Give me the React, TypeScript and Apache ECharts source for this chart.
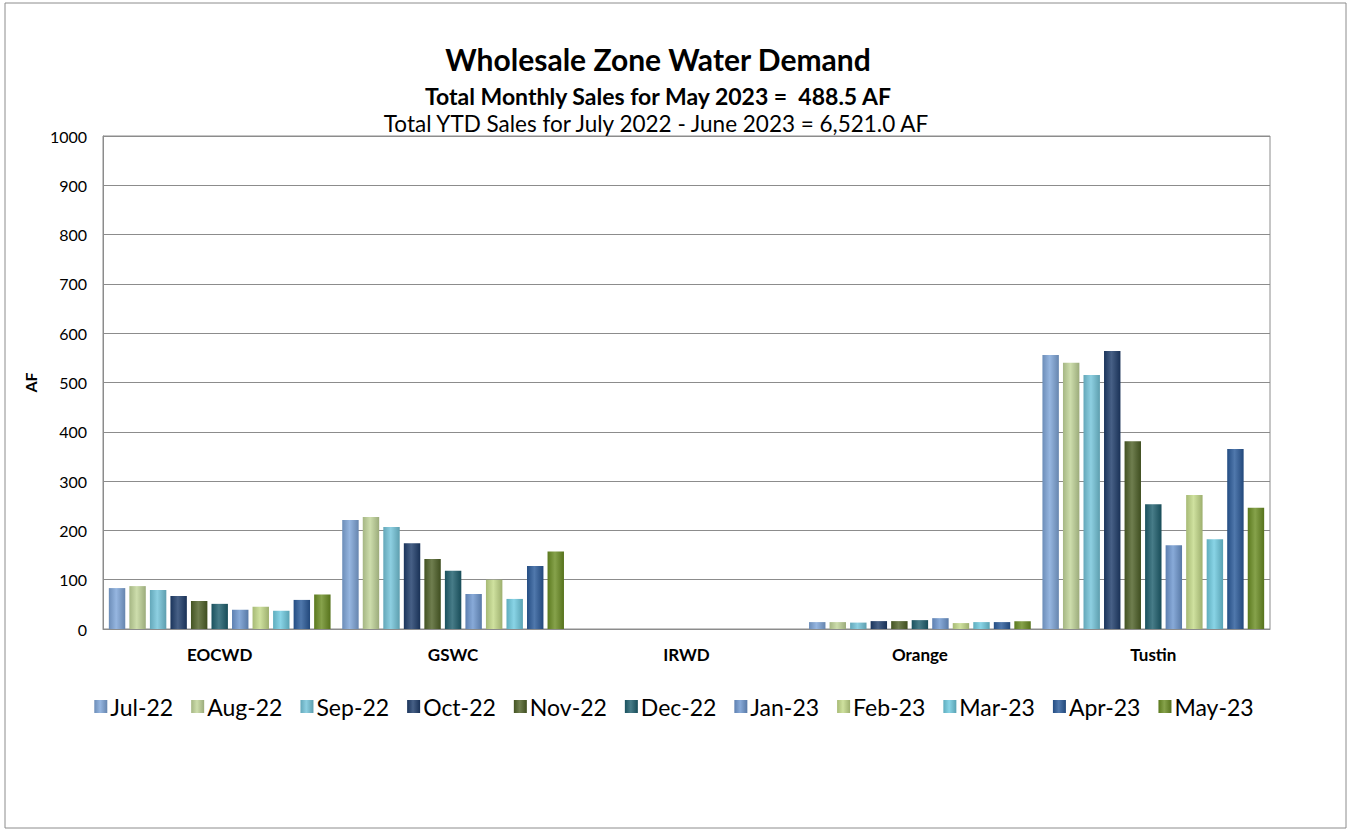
import React, { useEffect, useRef } from "react";
import * as echarts from "echarts";

const categories = ["EOCWD", "GSWC", "IRWD", "Orange", "Tustin"];
const months = ["Jul-22", "Aug-22", "Sep-22", "Oct-22", "Nov-22", "Dec-22", "Jan-23", "Feb-23", "Mar-23", "Apr-23", "May-23"];
const jul22 = [83, 221, 0, 14, 556];
const aug22 = [87, 227, 0, 14, 540];
const sep22 = [79, 207, 0, 13, 515];
const oct22 = [67, 174, 0, 16, 564];
const nov22 = [57, 142, 0, 16, 381];
const dec22 = [51, 118, 0, 18, 253];
const jan23 = [39, 71, 0, 22, 170];
const feb23 = [45, 100, 0, 12, 272];
const mar23 = [37, 61, 0, 14, 182];
const apr23 = [59, 128, 0, 14, 365];
const may23 = [70, 157, 0, 15.5, 246];
const seriesValues = [jul22, aug22, sep22, oct22, nov22, dec22, jan23, feb23, mar23, apr23, may23];
const colors = ["#7FA6D9", "#C2D69A", "#74C5DA", "#1F3D6B", "#4F6228", "#1E5F6E", "#6E97D0", "#C4DB8A", "#6FCBE0", "#2A5A9A", "#6B8E23"];
const yTicks = [0, 100, 200, 300, 400, 500, 600, 700, 800, 900, 1000];

function mix(hex: string, target: number, t: number) {
  const n = parseInt(hex.slice(1), 16);
  const r = (n >> 16) & 255, g = (n >> 8) & 255, b = n & 255;
  const f = (c: number) => Math.round(c + (target - c) * t);
  return `rgb(${f(r)},${f(g)},${f(b)})`;
}

export default function App() {
  const ref = useRef<HTMLDivElement>(null);
  useEffect(() => {
    if (!ref.current) return;
    const chart = echarts.init(ref.current, null, { renderer: "svg" });
    const font = "Lato, 'Liberation Sans', sans-serif";
    chart.setOption({
      animation: false,
      textStyle: { fontFamily: font, color: "#000" },
      graphic: [
        { type: "rect", shape: { x: 5, y: 3, width: 1341, height: 825 }, style: { fill: "none", stroke: "#8c8c8c", lineWidth: 1 }, silent: true },
        { type: "text", x: 658, y: 59, style: { text: "Wholesale Zone Water Demand", font: `bold 30px ${font}`, fill: "#000", align: "center", verticalAlign: "middle" } },
        { type: "text", x: 658, y: 96, style: { text: "Total Monthly Sales for May 2023 =  488.5 AF", font: `bold 23px ${font}`, fill: "#000", align: "center", verticalAlign: "middle" } },
        { type: "text", x: 656, y: 123, style: { text: "Total YTD Sales for July 2022 - June 2023 = 6,521.0 AF", font: `22.5px ${font}`, fill: "#000", align: "center", verticalAlign: "middle" } },
      ],
      grid: { left: 103, right: 78, top: 136, bottom: 201, show: true, borderColor: "#8c8c8c", borderWidth: 1 },
      legend: {
        data: months,
        top: 690,
        left: "center",
        itemWidth: 13,
        itemHeight: 13,
        itemGap: 18,
        icon: "rect",
        textStyle: { fontSize: 23, fontFamily: font, color: "#000", padding: [0, 0, 0, -2] },
      },
      xAxis: {
        type: "category",
        data: categories,
        axisLine: { lineStyle: { color: "#8c8c8c" } },
        axisTick: { show: false },
        axisLabel: { fontWeight: "bold", fontSize: 17, color: "#000", margin: 17, fontFamily: font },
      },
      yAxis: {
        type: "value",
        min: yTicks[0],
        max: yTicks[yTicks.length - 1],
        interval: 100,
        name: "AF",
        nameLocation: "middle",
        nameGap: 62,
        nameTextStyle: { fontWeight: "bold", fontSize: 16, color: "#000", fontFamily: font },
        axisLine: { show: true, lineStyle: { color: "#8c8c8c" } },
        axisTick: { show: false },
        splitLine: { lineStyle: { color: "#8c8c8c" } },
        axisLabel: { fontSize: 16, color: "#000", margin: 16, fontFamily: font, formatter: (v: number) => String(v) },
      },
      series: months.map((m, i) => ({
        name: m,
        type: "bar",
        data: seriesValues[i],
        barGap: "25%",
        barCategoryGap: "5%",
        itemStyle: {
          color: {
            type: "linear", x: 0, y: 0, x2: 1, y2: 0,
            colorStops: [
              { offset: 0, color: mix(colors[i], 0, 0.15) },
              { offset: 0.45, color: mix(colors[i], 255, 0.18) },
              { offset: 1, color: mix(colors[i], 0, 0.2) },
            ],
          },
          borderWidth: 0,
        },
      })),
    });
    return () => chart.dispose();
  }, []);
  return <div ref={ref} style={{ position: "absolute", left: 0, top: 0, width: 1348, height: 830 }} />;
}
